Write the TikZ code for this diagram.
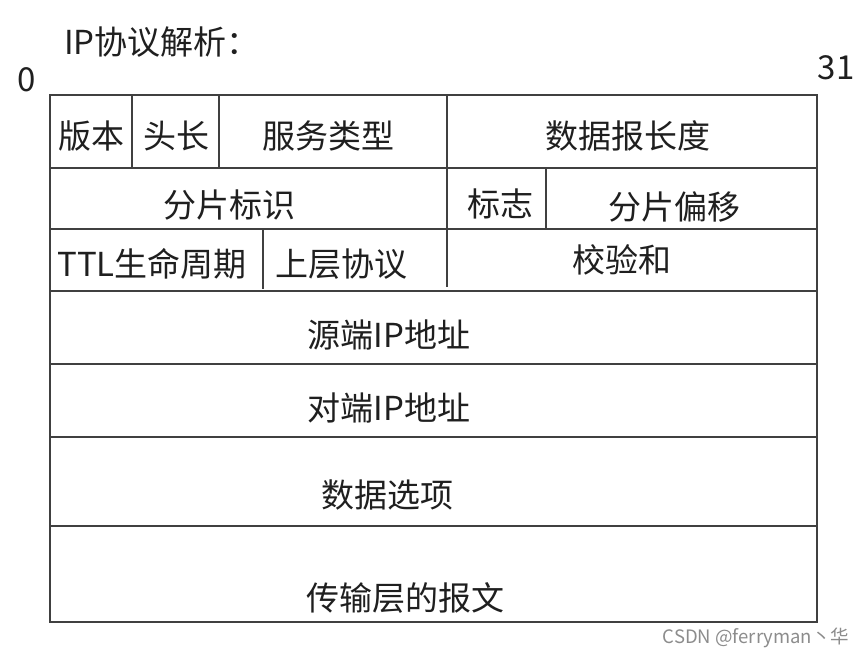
\documentclass[tikz,border=0pt]{standalone}
\usepackage{fontspec}
\setmainfont{Noto Sans CJK SC}
\begin{document}
\begin{tikzpicture}[x=1pt,y=-1pt,
  grid/.style={line width=1.2pt,draw=black!75},
  lbl/.style={inner sep=0pt,font=\fontsize{33}{33}\selectfont,text=black!88},
  wm/.style={inner sep=0pt,font=\fontsize{18.5}{18.5}\selectfont,text=black!45}]
\useasboundingbox[fill=white] (0,0) rectangle (865,657);
% outer frame and rows
\draw[grid] (50,95) rectangle (817,622);
\foreach \y in {168,229,291,364,437,526}
  \draw[grid] (50,\y) -- (817,\y);
% vertical separators
\draw[grid] (132,95) -- (132,168);
\draw[grid] (219,95) -- (219,168);
\draw[grid] (447,95) -- (447,287);
\draw[grid] (546,168) -- (546,229);
\draw[grid] (263,229) -- (263,289);
% labels
\node[lbl] (title) at (162,42) {IP协议解析：};
\node[lbl] (zero) at (27,80) {0};
\node[lbl] (thirtyone) at (836,68) {31};
\node[lbl] (ver) at (91,136) {版本};
\node[lbl] (ihl) at (176,136) {头长};
\node[lbl] (tos) at (328,136) {服务类型};
\node[lbl] (len) at (628,136) {数据报长度};
\node[lbl] (id) at (229,205) {分片标识};
\node[lbl] (flags) at (500,204) {标志};
\node[lbl] (off) at (674,207) {分片偏移};
\node[lbl] (ttl) at (152,264) {TTL生命周期};
\node[lbl] (proto) at (341,264) {上层协议};
\node[lbl] (csum) at (622,260) {校验和};
\node[lbl] (src) at (389,335) {源端IP地址};
\node[lbl] (dst) at (389,408) {对端IP地址};
\node[lbl] (opt) at (387,495) {数据选项};
\node[lbl] (data) at (405,598) {传输层的报文};
\node[wm] (mark) at (756,638) {CSDN @ferryman丶华};
\end{tikzpicture}
\end{document}
